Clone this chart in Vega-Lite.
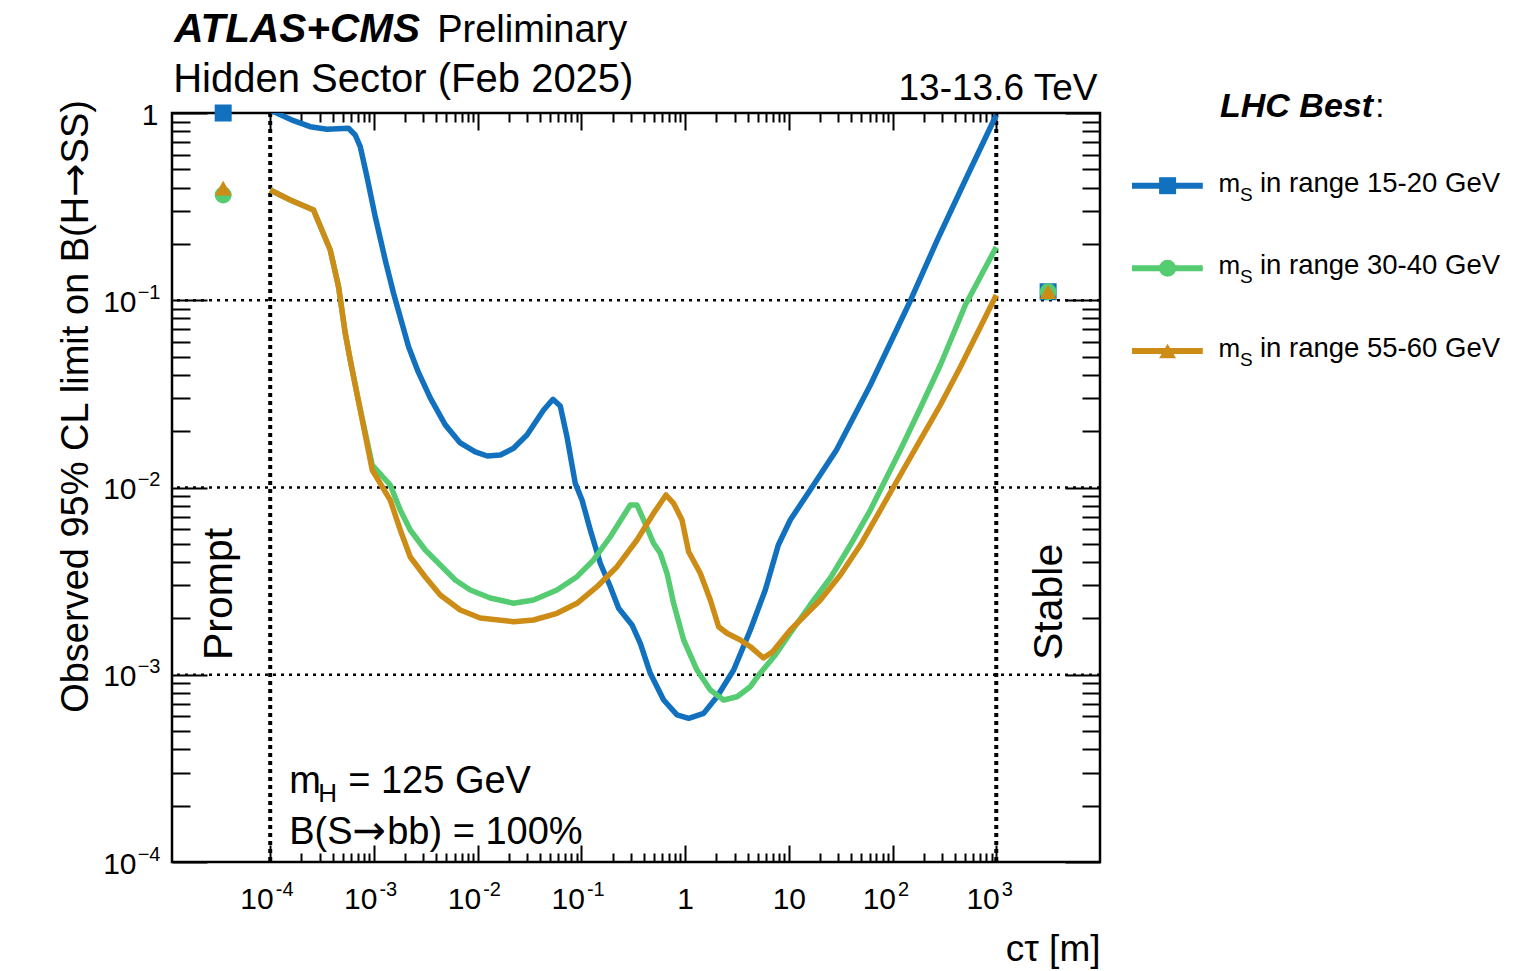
{
  "$schema": "https://vega.github.io/schema/vega-lite/v6.json",
  "width": 928,
  "height": 749,
  "autosize": {"type": "none"},
  "padding": {"left": 172, "top": 113, "right": 427, "bottom": 109},
  "background": "white",
  "config": {
    "font": "Liberation Sans",
    "view": {"stroke": "black", "strokeWidth": 2.5},
    "axis": {
      "labelFont": "Liberation Sans",
      "titleFont": "Liberation Sans",
      "labelColor": "black",
      "titleColor": "black",
      "tickColor": "black",
      "tickWidth": 2,
      "grid": false,
      "domain": false,
      "labelFlush": false,
      "labelOverlap": false,
      "labelBound": false,
      "titleFontWeight": "normal"
    }
  },
  "datasets": {
    "curves": [
      {"series": "15-20", "ctau": 1e-4, "limit": 1.037},
      {"series": "15-20", "ctau": 1.678e-4, "limit": 0.910},
      {"series": "15-20", "ctau": 2.43e-4, "limit": 0.845},
      {"series": "15-20", "ctau": 3.52e-4, "limit": 0.818},
      {"series": "15-20", "ctau": 5.69e-4, "limit": 0.829},
      {"series": "15-20", "ctau": 6.60e-4, "limit": 0.763},
      {"series": "15-20", "ctau": 7.38e-4, "limit": 0.661},
      {"series": "15-20", "ctau": 8.56e-4, "limit": 0.457},
      {"series": "15-20", "ctau": 1.029e-3, "limit": 0.2794},
      {"series": "15-20", "ctau": 1.285e-3, "limit": 0.164},
      {"series": "15-20", "ctau": 1.545e-3, "limit": 0.109},
      {"series": "15-20", "ctau": 2.157e-3, "limit": 0.0565},
      {"series": "15-20", "ctau": 2.673e-3, "limit": 0.0414},
      {"series": "15-20", "ctau": 3.49e-3, "limit": 0.0301},
      {"series": "15-20", "ctau": 4.87e-3, "limit": 0.0216},
      {"series": "15-20", "ctau": 6.79e-3, "limit": 0.0173},
      {"series": "15-20", "ctau": 9.48e-3, "limit": 0.0155},
      {"series": "15-20", "ctau": 0.01238, "limit": 0.01473},
      {"series": "15-20", "ctau": 0.01652, "limit": 0.01492},
      {"series": "15-20", "ctau": 0.02218, "limit": 0.01619},
      {"series": "15-20", "ctau": 0.02985, "limit": 0.01906},
      {"series": "15-20", "ctau": 0.0432, "limit": 0.02594},
      {"series": "15-20", "ctau": 0.05321, "limit": 0.02958},
      {"series": "15-20", "ctau": 0.06258, "limit": 0.02723},
      {"series": "15-20", "ctau": 0.07261, "limit": 0.01867},
      {"series": "15-20", "ctau": 0.0873, "limit": 0.01052},
      {"series": "15-20", "ctau": 0.1014, "limit": 0.00857},
      {"series": "15-20", "ctau": 0.1219, "limit": 0.00593},
      {"series": "15-20", "ctau": 0.1521, "limit": 0.003938},
      {"series": "15-20", "ctau": 0.1901, "limit": 0.002951},
      {"series": "15-20", "ctau": 0.2286, "limit": 0.002265},
      {"series": "15-20", "ctau": 0.3078, "limit": 0.001845},
      {"series": "15-20", "ctau": 0.37, "limit": 0.001472},
      {"series": "15-20", "ctau": 0.4613, "limit": 0.001018},
      {"series": "15-20", "ctau": 0.6209, "limit": 0.000733},
      {"series": "15-20", "ctau": 0.8356, "limit": 0.00061},
      {"series": "15-20", "ctau": 1.082, "limit": 0.000585},
      {"series": "15-20", "ctau": 1.508, "limit": 0.000622},
      {"series": "15-20", "ctau": 2.03, "limit": 0.000763},
      {"series": "15-20", "ctau": 2.938, "limit": 0.00106},
      {"series": "15-20", "ctau": 4.256, "limit": 0.001734},
      {"series": "15-20", "ctau": 5.93, "limit": 0.002838},
      {"series": "15-20", "ctau": 7.92, "limit": 0.00493},
      {"series": "15-20", "ctau": 10.32, "limit": 0.00671},
      {"series": "15-20", "ctau": 16.07, "limit": 0.0097},
      {"series": "15-20", "ctau": 28.8, "limit": 0.01585},
      {"series": "15-20", "ctau": 61.1, "limit": 0.03527},
      {"series": "15-20", "ctau": 142.0, "limit": 0.0943},
      {"series": "15-20", "ctau": 270.4, "limit": 0.2099},
      {"series": "15-20", "ctau": 503.5, "limit": 0.4387},
      {"series": "15-20", "ctau": 1000, "limit": 0.976},

      {"series": "30-40", "ctau": 1e-4, "limit": 0.388},
      {"series": "30-40", "ctau": 1.56e-4, "limit": 0.343},
      {"series": "30-40", "ctau": 2.615e-4, "limit": 0.3034},
      {"series": "30-40", "ctau": 3.79e-4, "limit": 0.1855},
      {"series": "30-40", "ctau": 4.557e-4, "limit": 0.1181},
      {"series": "30-40", "ctau": 5.286e-4, "limit": 0.0668},
      {"series": "30-40", "ctau": 5.907e-4, "limit": 0.048},
      {"series": "30-40", "ctau": 7.06e-4, "limit": 0.02933},
      {"series": "30-40", "ctau": 9.63e-4, "limit": 0.01318},
      {"series": "30-40", "ctau": 1.436e-3, "limit": 0.01031},
      {"series": "30-40", "ctau": 1.793e-3, "limit": 0.00759},
      {"series": "30-40", "ctau": 2.239e-3, "limit": 0.00593},
      {"series": "30-40", "ctau": 3.125e-3, "limit": 0.004637},
      {"series": "30-40", "ctau": 4.357e-3, "limit": 0.003854},
      {"series": "30-40", "ctau": 6.08e-3, "limit": 0.003206},
      {"series": "30-40", "ctau": 8.486e-3, "limit": 0.002835},
      {"series": "30-40", "ctau": 0.01323, "limit": 0.00257},
      {"series": "30-40", "ctau": 0.0222, "limit": 0.00241},
      {"series": "30-40", "ctau": 0.03459, "limit": 0.002509},
      {"series": "30-40", "ctau": 0.05815, "limit": 0.002835},
      {"series": "30-40", "ctau": 0.0907, "limit": 0.00334},
      {"series": "30-40", "ctau": 0.1311, "limit": 0.004102},
      {"series": "30-40", "ctau": 0.19, "limit": 0.005458},
      {"series": "30-40", "ctau": 0.2961, "limit": 0.008063},
      {"series": "30-40", "ctau": 0.3437, "limit": 0.008063},
      {"series": "30-40", "ctau": 0.3979, "limit": 0.00671},
      {"series": "30-40", "ctau": 0.4968, "limit": 0.005035},
      {"series": "30-40", "ctau": 0.5765, "limit": 0.004452},
      {"series": "30-40", "ctau": 0.6688, "limit": 0.003483},
      {"series": "30-40", "ctau": 0.7745, "limit": 0.00241},
      {"series": "30-40", "ctau": 0.9672, "limit": 0.001535},
      {"series": "30-40", "ctau": 1.302, "limit": 0.00106},
      {"series": "30-40", "ctau": 1.75, "limit": 0.000829},
      {"series": "30-40", "ctau": 2.351, "limit": 0.000733},
      {"series": "30-40", "ctau": 3.166, "limit": 0.000763},
      {"series": "30-40", "ctau": 4.253, "limit": 0.000863},
      {"series": "30-40", "ctau": 5.31, "limit": 0.001022},
      {"series": "30-40", "ctau": 7.41, "limit": 0.001274},
      {"series": "30-40", "ctau": 10.34, "limit": 0.001671},
      {"series": "30-40", "ctau": 16.05, "limit": 0.002358},
      {"series": "30-40", "ctau": 25.14, "limit": 0.003287},
      {"series": "30-40", "ctau": 39.18, "limit": 0.00493},
      {"series": "30-40", "ctau": 61.1, "limit": 0.00758},
      {"series": "30-40", "ctau": 118.9, "limit": 0.01586},
      {"series": "30-40", "ctau": 185.4, "limit": 0.02658},
      {"series": "30-40", "ctau": 289.1, "limit": 0.0451},
      {"series": "30-40", "ctau": 503.5, "limit": 0.0943},
      {"series": "30-40", "ctau": 1000, "limit": 0.1925},

      {"series": "55-60", "ctau": 1e-4, "limit": 0.388},
      {"series": "55-60", "ctau": 1.56e-4, "limit": 0.343},
      {"series": "55-60", "ctau": 2.615e-4, "limit": 0.3034},
      {"series": "55-60", "ctau": 3.79e-4, "limit": 0.1855},
      {"series": "55-60", "ctau": 4.557e-4, "limit": 0.1181},
      {"series": "55-60", "ctau": 5.286e-4, "limit": 0.0668},
      {"series": "55-60", "ctau": 5.907e-4, "limit": 0.048},
      {"series": "55-60", "ctau": 7.06e-4, "limit": 0.02933},
      {"series": "55-60", "ctau": 9.63e-4, "limit": 0.0124},
      {"series": "55-60", "ctau": 1.436e-3, "limit": 0.00857},
      {"series": "55-60", "ctau": 1.793e-3, "limit": 0.00593},
      {"series": "55-60", "ctau": 2.239e-3, "limit": 0.004254},
      {"series": "55-60", "ctau": 3.125e-3, "limit": 0.003327},
      {"series": "55-60", "ctau": 4.357e-3, "limit": 0.002667},
      {"series": "55-60", "ctau": 6.797e-3, "limit": 0.002218},
      {"series": "55-60", "ctau": 0.01059, "limit": 0.00201},
      {"series": "55-60", "ctau": 0.0222, "limit": 0.00192},
      {"series": "55-60", "ctau": 0.03459, "limit": 0.001961},
      {"series": "55-60", "ctau": 0.05815, "limit": 0.002129},
      {"series": "55-60", "ctau": 0.0907, "limit": 0.002407},
      {"series": "55-60", "ctau": 0.1414, "limit": 0.002953},
      {"series": "55-60", "ctau": 0.2205, "limit": 0.003776},
      {"series": "55-60", "ctau": 0.3437, "limit": 0.005243},
      {"series": "55-60", "ctau": 0.4968, "limit": 0.007281},
      {"series": "55-60", "ctau": 0.6543, "limit": 0.00912},
      {"series": "55-60", "ctau": 0.7745, "limit": 0.00823},
      {"series": "55-60", "ctau": 0.9335, "limit": 0.00671},
      {"series": "55-60", "ctau": 1.081, "limit": 0.004541},
      {"series": "55-60", "ctau": 1.401, "limit": 0.003482},
      {"series": "55-60", "ctau": 1.75, "limit": 0.002507},
      {"series": "55-60", "ctau": 2.104, "limit": 0.001805},
      {"series": "55-60", "ctau": 2.536, "limit": 0.001665},
      {"series": "55-60", "ctau": 3.406, "limit": 0.001533},
      {"series": "55-60", "ctau": 4.253, "limit": 0.001412},
      {"series": "55-60", "ctau": 5.684, "limit": 0.001229},
      {"series": "55-60", "ctau": 6.94, "limit": 0.001322},
      {"series": "55-60", "ctau": 10.34, "limit": 0.001734},
      {"series": "55-60", "ctau": 20.13, "limit": 0.002507},
      {"series": "55-60", "ctau": 31.38, "limit": 0.003409},
      {"series": "55-60", "ctau": 48.93, "limit": 0.00493},
      {"series": "55-60", "ctau": 76.27, "limit": 0.00758},
      {"series": "55-60", "ctau": 118.9, "limit": 0.01166},
      {"series": "55-60", "ctau": 185.4, "limit": 0.01794},
      {"series": "55-60", "ctau": 289.1, "limit": 0.02758},
      {"series": "55-60", "ctau": 450.6, "limit": 0.044},
      {"series": "55-60", "ctau": 751, "limit": 0.0775},
      {"series": "55-60", "ctau": 1000, "limit": 0.1067}
    ],
    "points": [
      {"series": "15-20", "ctau": 3.52e-5, "limit": 1.0},
      {"series": "30-40", "ctau": 3.52e-5, "limit": 0.365},
      {"series": "55-60", "ctau": 3.52e-5, "limit": 0.397},
      {"series": "15-20", "ctau": 3162, "limit": 0.111},
      {"series": "30-40", "ctau": 3162, "limit": 0.111},
      {"series": "55-60", "ctau": 3162, "limit": 0.111}
    ],
    "annot": [
      {"kind": "bolditalic", "text": "ATLAS+CMS", "ctau": 1.19e-5, "limit": 2.40},
      {"kind": "prelim", "text": "Preliminary", "ctau": 4.07e-3, "limit": 2.40},
      {"kind": "hidden", "text": "Hidden Sector (Feb 2025)", "ctau": 1.16e-5, "limit": 1.295},
      {"kind": "energy", "text": "13-13.6 TeV", "ctau": 9440, "limit": 1.173},
      {"kind": "label", "text": "m", "ctau": 1.525e-4, "limit": 2.34e-4},
      {"kind": "sub", "text": "H", "ctau": 2.904e-4, "limit": 2.091e-4},
      {"kind": "label", "text": "= 125 GeV", "ctau": 5.65e-4, "limit": 2.34e-4},
      {"kind": "label", "text": "B(S", "ctau": 1.525e-4, "limit": 1.247e-4},
      {"kind": "arrow", "text": "→", "ctau": 6.216e-4, "limit": 1.247e-4},
      {"kind": "label", "text": "bb) = 100%", "ctau": 1.343e-3, "limit": 1.247e-4},
      {"kind": "vertical", "text": "Prompt", "ctau": 4.30e-5, "limit": 1.199e-3},
      {"kind": "vertical", "text": "Stable", "ctau": 4339, "limit": 1.199e-3},
      {"kind": "ytitle", "text": "SS)", "ctau": 1.757e-6, "limit": 1.173},
      {"kind": "ytitle", "text": "Observed 95% CL limit on B(H", "ctau": 1.757e-6, "limit": 0.3568},
      {"kind": "yarrow", "text": "→", "ctau": 1.757e-6, "limit": 0.5387}
    ],
    "legend": [
      {"series": "15-20", "label": "in range 15-20 GeV", "slot": 0},
      {"series": "30-40", "label": "in range 30-40 GeV", "slot": 1},
      {"series": "55-60", "label": "in range 55-60 GeV", "slot": 2}
    ]
  },
  "layer": [
    {
      "layer": [
        {
          "data": {"values": [{"limit": 0.1}, {"limit": 0.01}, {"limit": 0.001}]},
          "mark": {"type": "rule", "strokeDash": [3, 5], "strokeWidth": 2.5, "color": "black"},
          "encoding": {
            "y": {
              "field": "limit", "type": "quantitative",
              "scale": {"type": "log", "domain": [0.0001, 1], "nice": false},
              "axis": {
                "orient": "left",
                "values": [1, 0.1, 0.01, 0.001, 0.0001],
                "ticks": false,
                "labelExpr": "datum.value > 0.5 ? '1' : '10'",
                "labelFontSize": 30,
                "labelPadding": {"condition": {"test": "datum.value > 0.5", "value": 14}, "value": 36},
                "labelAlign": "right",
                "labelBaseline": "alphabetic",
                "labelOffset": 11,
                "title": null
              }
            }
          }
        },
        {
          "data": {"values": [{"ctau": 0.0001}, {"ctau": 1000}]},
          "mark": {"type": "rule", "strokeDash": [4, 4], "strokeWidth": 4, "color": "black"},
          "encoding": {
            "x": {
              "field": "ctau", "type": "quantitative",
              "scale": {"type": "log", "domain": [1.13e-5, 10000], "nice": false},
              "axis": {
                "orient": "bottom",
                "values": [0.0001, 0.001, 0.01, 0.1, 1, 10, 100, 1000],
                "ticks": false,
                "labelExpr": "datum.value > 0.5 && datum.value < 5 ? '1' : '10'",
                "labelFontSize": 30,
                "labelPadding": 46,
                "labelAlign": {"condition": {"test": "datum.value > 0.5 && datum.value < 50", "value": "center"}, "value": "right"},
                "labelOffset": {"condition": {"test": "datum.value > 0.5 && datum.value < 50", "value": 0}, "value": 3},
                "labelBaseline": "alphabetic",
                "title": "cτ [m]",
                "titleFontSize": 37,
                "titleAlign": "right",
                "titleBaseline": "alphabetic",
                "titleX": 928,
                "titleY": 98
              }
            }
          }
        },
        {
          "data": {"name": "curves"},
          "transform": [{"filter": "datum.series == '15-20'"}],
          "mark": {"type": "line", "color": "#1271BE", "strokeWidth": 5.5, "clip": true, "strokeJoin": "round"},
          "encoding": {
            "x": {
              "field": "ctau", "type": "quantitative",
              "scale": {"type": "log", "domain": [1.13e-5, 10000], "nice": false},
              "axis": {"orient": "bottom", "values": [0.0001, 0.001, 0.01, 0.1, 1, 10, 100, 1000], "labels": false, "tickSize": -17, "title": null}
            },
            "y": {
              "field": "limit", "type": "quantitative",
              "scale": {"type": "log", "domain": [0.0001, 1], "nice": false},
              "axis": {"orient": "left", "values": [1, 0.1, 0.01, 0.001, 0.0001], "labels": false, "tickSize": -35, "title": null}
            }
          }
        },
        {
          "data": {"name": "curves"},
          "transform": [{"filter": "datum.series == '30-40'"}],
          "mark": {"type": "line", "color": "#55CB72", "strokeWidth": 5.5, "clip": true, "strokeJoin": "round"},
          "encoding": {
            "x": {
              "field": "ctau", "type": "quantitative",
              "scale": {"type": "log", "domain": [1.13e-5, 10000], "nice": false},
              "axis": {"orient": "bottom", "values": [2e-4, 3e-4, 4e-4, 5e-4, 6e-4, 7e-4, 8e-4, 9e-4, 2e-3, 3e-3, 4e-3, 5e-3, 6e-3, 7e-3, 8e-3, 9e-3, 0.02, 0.03, 0.04, 0.05, 0.06, 0.07, 0.08, 0.09, 0.2, 0.3, 0.4, 0.5, 0.6, 0.7, 0.8, 0.9, 2, 3, 4, 5, 6, 7, 8, 9, 20, 30, 40, 50, 60, 70, 80, 90, 200, 300, 400, 500, 600, 700, 800, 900], "labels": false, "tickSize": -9, "title": null}
            },
            "y": {
              "field": "limit", "type": "quantitative",
              "scale": {"type": "log", "domain": [0.0001, 1], "nice": false},
              "axis": {"orient": "left", "values": [2e-4, 3e-4, 4e-4, 5e-4, 6e-4, 7e-4, 8e-4, 9e-4, 2e-3, 3e-3, 4e-3, 5e-3, 6e-3, 7e-3, 8e-3, 9e-3, 0.02, 0.03, 0.04, 0.05, 0.06, 0.07, 0.08, 0.09, 0.2, 0.3, 0.4, 0.5, 0.6, 0.7, 0.8, 0.9], "labels": false, "tickSize": -18, "title": null}
            }
          }
        },
        {
          "data": {"name": "curves"},
          "transform": [{"filter": "datum.series == '55-60'"}],
          "mark": {"type": "line", "color": "#CD8C15", "strokeWidth": 5.5, "clip": true, "strokeJoin": "round"},
          "encoding": {
            "x": {
              "field": "ctau", "type": "quantitative",
              "scale": {"type": "log", "domain": [1.13e-5, 10000], "nice": false},
              "axis": {"orient": "top", "values": [0.0001, 0.001, 0.01, 0.1, 1, 10, 100, 1000], "labels": false, "tickSize": -17, "title": null}
            },
            "y": {
              "field": "limit", "type": "quantitative",
              "scale": {"type": "log", "domain": [0.0001, 1], "nice": false},
              "axis": {"orient": "right", "values": [1, 0.1, 0.01, 0.001, 0.0001], "labels": false, "tickSize": -35, "title": null}
            }
          }
        },
        {
          "data": {"name": "points"},
          "mark": {"type": "point", "filled": true, "opacity": 1, "size": 289, "strokeWidth": 0},
          "encoding": {
            "x": {
              "field": "ctau", "type": "quantitative",
              "scale": {"type": "log", "domain": [1.13e-5, 10000], "nice": false},
              "axis": {"orient": "top", "values": [2e-4, 3e-4, 4e-4, 5e-4, 6e-4, 7e-4, 8e-4, 9e-4, 2e-3, 3e-3, 4e-3, 5e-3, 6e-3, 7e-3, 8e-3, 9e-3, 0.02, 0.03, 0.04, 0.05, 0.06, 0.07, 0.08, 0.09, 0.2, 0.3, 0.4, 0.5, 0.6, 0.7, 0.8, 0.9, 2, 3, 4, 5, 6, 7, 8, 9, 20, 30, 40, 50, 60, 70, 80, 90, 200, 300, 400, 500, 600, 700, 800, 900], "labels": false, "tickSize": -9, "title": null}
            },
            "y": {
              "field": "limit", "type": "quantitative",
              "scale": {"type": "log", "domain": [0.0001, 1], "nice": false},
              "axis": {"orient": "right", "values": [2e-4, 3e-4, 4e-4, 5e-4, 6e-4, 7e-4, 8e-4, 9e-4, 2e-3, 3e-3, 4e-3, 5e-3, 6e-3, 7e-3, 8e-3, 9e-3, 0.02, 0.03, 0.04, 0.05, 0.06, 0.07, 0.08, 0.09, 0.2, 0.3, 0.4, 0.5, 0.6, 0.7, 0.8, 0.9], "labels": false, "tickSize": -18, "title": null}
            },
            "color": {"field": "series", "type": "nominal", "scale": {"domain": ["15-20", "30-40", "55-60"], "range": ["#1271BE", "#55CB72", "#CD8C15"]}, "legend": null},
            "shape": {"field": "series", "type": "nominal", "scale": {"domain": ["15-20", "30-40", "55-60"], "range": ["square", "circle", "triangle-up"]}, "legend": null}
          }
        },
        {
          "data": {"name": "annot"},
          "transform": [{"filter": "datum.kind == 'bolditalic'"}],
          "mark": {"type": "text", "fontSize": 40.5, "fontWeight": "bold", "fontStyle": "italic", "align": "left", "baseline": "alphabetic", "color": "black"},
          "encoding": {
            "x": {
              "field": "ctau", "type": "quantitative",
              "scale": {"type": "log", "domain": [1.13e-5, 10000], "nice": false},
              "axis": {
                "orient": "bottom",
                "values": [0.0001, 0.001, 0.01, 0.1, 100, 1000],
                "ticks": false,
                "labelExpr": "datum.value < 0.0005 ? '-4' : datum.value < 0.005 ? '-3' : datum.value < 0.05 ? '-2' : datum.value < 0.5 ? '-1' : datum.value < 500 ? '2' : '3'",
                "labelFontSize": 20,
                "labelPadding": 33,
                "labelAlign": "left",
                "labelOffset": 5,
                "labelBaseline": "alphabetic",
                "title": null
              }
            },
            "y": {
              "field": "limit", "type": "quantitative",
              "scale": {"type": "log", "domain": [0.0001, 1], "nice": false},
              "axis": {
                "orient": "left",
                "values": [0.1, 0.01, 0.001, 0.0001],
                "ticks": false,
                "labelExpr": "datum.value > 0.05 ? '−1' : datum.value > 0.005 ? '−2' : datum.value > 0.0005 ? '−3' : '−4'",
                "labelFontSize": 20,
                "labelPadding": 12,
                "labelAlign": "right",
                "labelOffset": -2,
                "labelBaseline": "alphabetic",
                "title": null
              }
            },
            "text": {"field": "text"}
          }
        },
        {
          "data": {"name": "annot"},
          "transform": [{"filter": "datum.kind == 'prelim'"}],
          "mark": {"type": "text", "fontSize": 38, "align": "left", "baseline": "alphabetic", "color": "black"},
          "encoding": {
            "x": {"field": "ctau", "type": "quantitative", "scale": {"type": "log", "domain": [1.13e-5, 10000], "nice": false}, "axis": null},
            "y": {"field": "limit", "type": "quantitative", "scale": {"type": "log", "domain": [0.0001, 1], "nice": false}, "axis": null},
            "text": {"field": "text"}
          }
        },
        {
          "data": {"name": "annot"},
          "transform": [{"filter": "datum.kind == 'hidden'"}],
          "mark": {"type": "text", "fontSize": 40, "align": "left", "baseline": "alphabetic", "color": "black"},
          "encoding": {
            "x": {"field": "ctau", "type": "quantitative", "scale": {"type": "log", "domain": [1.13e-5, 10000], "nice": false}, "axis": null},
            "y": {"field": "limit", "type": "quantitative", "scale": {"type": "log", "domain": [0.0001, 1], "nice": false}, "axis": null},
            "text": {"field": "text"}
          }
        },
        {
          "data": {"name": "annot"},
          "transform": [{"filter": "datum.kind == 'energy'"}],
          "mark": {"type": "text", "fontSize": 37, "align": "right", "baseline": "alphabetic", "color": "black"},
          "encoding": {
            "x": {"field": "ctau", "type": "quantitative", "scale": {"type": "log", "domain": [1.13e-5, 10000], "nice": false}, "axis": null},
            "y": {"field": "limit", "type": "quantitative", "scale": {"type": "log", "domain": [0.0001, 1], "nice": false}, "axis": null},
            "text": {"field": "text"}
          }
        },
        {
          "data": {"name": "annot"},
          "transform": [{"filter": "datum.kind == 'label'"}],
          "mark": {"type": "text", "fontSize": 38, "align": "left", "baseline": "alphabetic", "color": "black"},
          "encoding": {
            "x": {"field": "ctau", "type": "quantitative", "scale": {"type": "log", "domain": [1.13e-5, 10000], "nice": false}, "axis": null},
            "y": {"field": "limit", "type": "quantitative", "scale": {"type": "log", "domain": [0.0001, 1], "nice": false}, "axis": null},
            "text": {"field": "text"}
          }
        },
        {
          "data": {"name": "annot"},
          "transform": [{"filter": "datum.kind == 'arrow'"}],
          "mark": {"type": "text", "fontSize": 40, "font": "DejaVu Sans", "align": "left", "baseline": "alphabetic", "color": "black"},
          "encoding": {
            "x": {"field": "ctau", "type": "quantitative", "scale": {"type": "log", "domain": [1.13e-5, 10000], "nice": false}, "axis": null},
            "y": {"field": "limit", "type": "quantitative", "scale": {"type": "log", "domain": [0.0001, 1], "nice": false}, "axis": null},
            "text": {"field": "text"}
          }
        },
        {
          "data": {"name": "annot"},
          "transform": [{"filter": "datum.kind == 'sub'"}],
          "mark": {"type": "text", "fontSize": 26, "align": "left", "baseline": "alphabetic", "color": "black"},
          "encoding": {
            "x": {"field": "ctau", "type": "quantitative", "scale": {"type": "log", "domain": [1.13e-5, 10000], "nice": false}, "axis": null},
            "y": {"field": "limit", "type": "quantitative", "scale": {"type": "log", "domain": [0.0001, 1], "nice": false}, "axis": null},
            "text": {"field": "text"}
          }
        },
        {
          "data": {"name": "annot"},
          "transform": [{"filter": "datum.kind == 'vertical'"}],
          "mark": {"type": "text", "fontSize": 41, "angle": 270, "align": "left", "baseline": "alphabetic", "color": "black"},
          "encoding": {
            "x": {"field": "ctau", "type": "quantitative", "scale": {"type": "log", "domain": [1.13e-5, 10000], "nice": false}, "axis": null},
            "y": {"field": "limit", "type": "quantitative", "scale": {"type": "log", "domain": [0.0001, 1], "nice": false}, "axis": null},
            "text": {"field": "text"}
          }
        },
        {
          "data": {"name": "annot"},
          "transform": [{"filter": "datum.kind == 'ytitle'"}],
          "mark": {"type": "text", "fontSize": 38, "angle": 270, "align": "right", "baseline": "alphabetic", "color": "black"},
          "encoding": {
            "x": {"field": "ctau", "type": "quantitative", "scale": {"type": "log", "domain": [1.13e-5, 10000], "nice": false}, "axis": null},
            "y": {"field": "limit", "type": "quantitative", "scale": {"type": "log", "domain": [0.0001, 1], "nice": false}, "axis": null},
            "text": {"field": "text"}
          }
        },
        {
          "data": {"name": "annot"},
          "transform": [{"filter": "datum.kind == 'yarrow'"}],
          "mark": {"type": "text", "fontSize": 40, "font": "DejaVu Sans", "angle": 270, "align": "right", "baseline": "alphabetic", "color": "black"},
          "encoding": {
            "x": {"field": "ctau", "type": "quantitative", "scale": {"type": "log", "domain": [1.13e-5, 10000], "nice": false}, "axis": null},
            "y": {"field": "limit", "type": "quantitative", "scale": {"type": "log", "domain": [0.0001, 1], "nice": false}, "axis": null},
            "text": {"field": "text"}
          }
        }
      ],
      "resolve": {"axis": {"x": "independent", "y": "independent"}}
    },
    {
      "layer": [
        {
          "data": {"name": "legend"},
          "mark": {"type": "rule", "strokeWidth": 6},
          "encoding": {
            "x": {"datum": 0, "type": "quantitative", "scale": {"domain": [0, 10], "range": [960, 1360]}, "axis": null},
            "x2": {"datum": 1.77},
            "y": {"field": "slot", "type": "quantitative", "scale": {"domain": [0, 2], "range": [72.7, 238]}, "axis": null},
            "color": {"field": "series", "type": "nominal", "scale": {"domain": ["15-20", "30-40", "55-60"], "range": ["#1271BE", "#55CB72", "#CD8C15"]}, "legend": null}
          }
        },
        {
          "data": {"name": "legend"},
          "mark": {"type": "point", "filled": true, "opacity": 1, "size": 289, "strokeWidth": 0},
          "encoding": {
            "x": {"datum": 0.89, "type": "quantitative", "scale": {"domain": [0, 10], "range": [960, 1360]}, "axis": null},
            "y": {"field": "slot", "type": "quantitative", "scale": {"domain": [0, 2], "range": [72.7, 238]}, "axis": null},
            "color": {"field": "series", "type": "nominal", "scale": {"domain": ["15-20", "30-40", "55-60"], "range": ["#1271BE", "#55CB72", "#CD8C15"]}, "legend": null},
            "shape": {"field": "series", "type": "nominal", "scale": {"domain": ["15-20", "30-40", "55-60"], "range": ["square", "circle", "triangle-up"]}, "legend": null}
          }
        },
        {
          "data": {"name": "legend"},
          "mark": {"type": "text", "fontSize": 26, "align": "left", "baseline": "alphabetic", "dy": 6, "color": "black"},
          "encoding": {
            "x": {"datum": 2.16, "type": "quantitative", "scale": {"domain": [0, 10], "range": [960, 1360]}, "axis": null},
            "y": {"field": "slot", "type": "quantitative", "scale": {"domain": [0, 2], "range": [72.7, 238]}, "axis": null},
            "text": {"value": "m"}
          }
        },
        {
          "data": {"name": "legend"},
          "mark": {"type": "text", "fontSize": 19, "align": "left", "baseline": "alphabetic", "dy": 15, "color": "black"},
          "encoding": {
            "x": {"datum": 2.7, "type": "quantitative", "scale": {"domain": [0, 10], "range": [960, 1360]}, "axis": null},
            "y": {"field": "slot", "type": "quantitative", "scale": {"domain": [0, 2], "range": [72.7, 238]}, "axis": null},
            "text": {"value": "S"}
          }
        },
        {
          "data": {"name": "legend"},
          "mark": {"type": "text", "fontSize": 27.5, "align": "left", "baseline": "alphabetic", "dy": 6, "color": "black"},
          "encoding": {
            "x": {"datum": 3.2, "type": "quantitative", "scale": {"domain": [0, 10], "range": [960, 1360]}, "axis": null},
            "y": {"field": "slot", "type": "quantitative", "scale": {"domain": [0, 2], "range": [72.7, 238]}, "axis": null},
            "text": {"field": "label"}
          }
        },
        {
          "data": {"values": [{"t": "LHC Best"}]},
          "mark": {"type": "text", "fontSize": 34, "fontWeight": "bold", "fontStyle": "italic", "align": "left", "baseline": "alphabetic", "color": "black"},
          "encoding": {
            "x": {"datum": 2.2, "type": "quantitative", "scale": {"domain": [0, 10], "range": [960, 1360]}, "axis": null},
            "y": {"datum": -0.835, "type": "quantitative", "scale": {"domain": [0, 2], "range": [72.7, 238]}, "axis": null},
            "text": {"field": "t"}
          }
        },
        {
          "data": {"values": [{"t": ":"}]},
          "mark": {"type": "text", "fontSize": 33, "align": "left", "baseline": "alphabetic", "color": "black"},
          "encoding": {
            "x": {"datum": 6.08, "type": "quantitative", "scale": {"domain": [0, 10], "range": [960, 1360]}, "axis": null},
            "y": {"datum": -0.835, "type": "quantitative", "scale": {"domain": [0, 2], "range": [72.7, 238]}, "axis": null},
            "text": {"field": "t"}
          }
        }
      ]
    }
  ],
  "resolve": {
    "scale": {"x": "independent", "y": "independent"},
    "axis": {"x": "independent", "y": "independent"}
  }
}
